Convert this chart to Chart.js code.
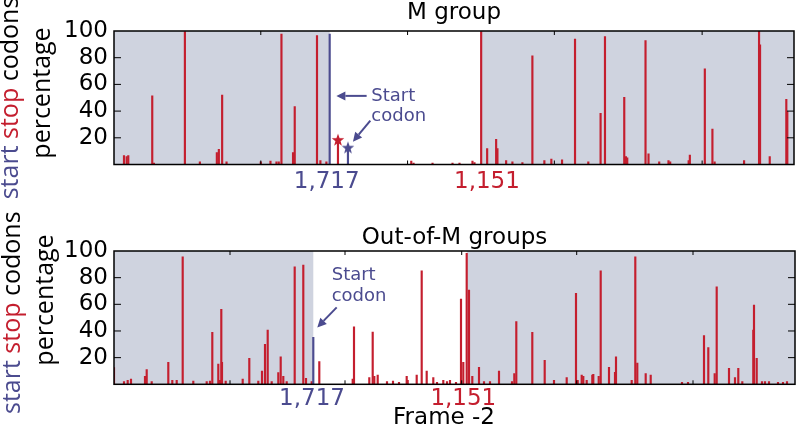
<!DOCTYPE html>
<html>
<head>
<meta charset="utf-8">
<script src="https://cdn.jsdelivr.net/npm/chart.js@4.4.0/dist/chart.umd.min.js"></script>
<style>
  body { margin: 0; background: #fff; }
  canvas { position: absolute; left: 0; }
</style>
</head>
<body>
<canvas id="mChart" width="799" height="200" style="top:0"></canvas>
<canvas id="oChart" width="799" height="226" style="top:200px"></canvas>
<script>
// positions along the frame (0 = left edge of the plot), values in percent
const mStopPos = [10, 12.7, 14.3, 38.3, 40, 71, 86, 103, 105, 108.3, 112.7, 147, 156.7, 162.7, 165, 167.7, 179.3, 181, 203.3, 206.7, 212.7, 224.3,
  297.7, 300, 319, 339, 346, 359, 361,
  367.7, 373.7, 382.7, 384, 392.7, 399, 409, 419, 431, 438, 448.7, 461.7, 475, 487.3, 491.7, 511, 512.7, 514, 532.3, 535.3, 546, 555.3, 557,
  575.5, 576.7, 591.7, 599.3, 601.5, 631, 646, 647, 656.7, 673.3, 674.3];
const mStopPct = [6.6, 6, 6.6, 51.4, 1, 99.6, 2, 9, 11.4, 52, 2, 2, 2.5, 2, 2, 97.6, 9, 43.4, 96.6, 3, 2, 18.4,
  2.5, 1, 1, 1, 1, 2.5, 1.5,
  99.6, 12, 18.9, 12, 3, 2, 1.5, 81.4, 3, 4, 3.5, 93.9, 2, 38.4, 95.9, 50.4, 6, 5, 92.9, 8, 2, 3, 2,
  3, 7, 71.6, 26.6, 2, 3, 100, 89.6, 6, 48.9, 39.6];
const mStartPos = [216, 234.3];
const mStartPct = [97.6, 12.6];
const mStarPos = [224.3, 234.3];
const mStarPct = [18.4, 12.6];
const mShadeFrom = [0, 367.7];
const mShadeTo = [216, 681];
const mTickPos = [213, 373.5];
const mMinorTicks = [147, 294, 441, 589];

const oStopPos = [0, 10, 13.7, 17, 31, 32.7, 37.7, 54.3, 58.3, 62.7, 68.7, 79.3, 92.7, 96, 98.3, 104.3, 106, 107.3, 108, 111.7, 128.7, 135.3,
  144.3, 148, 151, 153.7, 157.7, 164.3, 166.7, 169.3, 172.7, 180.7, 189.3, 192, 197.7,
  205.3, 238.7, 240, 255.3, 258.7, 260.3, 263.7, 273, 279, 285, 292.7, 293.7, 302.7, 307.7, 312.7, 319.3, 323, 329.3, 333, 336, 342, 347, 349.3,
  352.7, 355, 358.3, 365, 370, 376, 385, 398, 400.3, 402.3, 418.3, 430.7, 440, 452.7, 462, 463.7, 467.7, 469.3, 472.7, 478.3, 479.3, 484.7,
  486.7, 495, 501, 502, 517.7, 521.3, 523.3, 531.7, 536.7, 568, 574, 590, 594.3, 600.7, 602.7, 615, 621, 624.3, 628.3, 639.3, 640, 642.7,
  648, 651, 655, 664, 669, 673];
const oStopPct = [12.5, 2, 3, 4, 6, 11, 2, 16.5, 3, 3, 95.7, 2.5, 2, 2.5, 39, 15.2, 3, 56.2, 16.5, 2.5, 4, 19.5,
  2.5, 10, 30, 40.7, 2, 8.7, 20.7, 6, 2, 88.2, 89.5, 4.5, 2,
  17, 4, 43.2, 5, 39.2, 6, 7, 2, 2.5, 1.5, 6, 3, 7, 85.2, 10, 5, 1.5, 3, 2, 3, 1.5, 64, 16.5,
  98.2, 70.7, 6, 12.7, 2, 2, 10, 2, 8, 47, 39, 18, 3, 5, 68.2, 3, 7, 6, 3, 7, 7.5, 6,
  85.2, 12.7, 9, 20.7, 3, 95.7, 16, 8, 7, 1.5, 1.5, 36.5, 27.5, 8, 73.2, 12, 5, 12, 2, 40.7, 59.5, 19.5,
  2, 2, 2, 1.5, 1.5, 2];
const oStartPos = [199.3];
const oStartPct = [35.2];
const oShadeFrom = [0, 352.7];
const oShadeTo = [199.3, 681];
const oTickPos = [198, 349.3];
const oMinorTicks = [116, 231, 347.7, 462.7, 579];

const tickLabels = ['1,717', '1,151'];
const yTickValues = [20, 40, 60, 80, 100];

const RED = '#c41e2e';
const BLUE = '#4b4b8f';
const SHADE = '#cfd3df';
const tickColors = [BLUE, RED];

function starImage(color) {
  const c = document.createElement('canvas');
  c.width = c.height = 14;
  const g = c.getContext('2d');
  g.beginPath();
  for (let i = 0; i < 10; i++) {
    const r = i % 2 ? 2.7 : 6.6;
    const a = -Math.PI / 2 + i * Math.PI / 5;
    g.lineTo(7 + r * Math.cos(a), 7.4 + r * Math.sin(a));
  }
  g.closePath();
  g.fillStyle = color;
  g.fill();
  return c;
}

function arrow(ctx, x1, y1, x2, y2) {
  const a = Math.atan2(y2 - y1, x2 - x1);
  const head = 9, w = 4.5;
  const bx = x2 - head * Math.cos(a), by = y2 - head * Math.sin(a);
  ctx.beginPath();
  ctx.moveTo(x1, y1);
  ctx.lineTo(bx, by);
  ctx.stroke();
  ctx.beginPath();
  ctx.moveTo(x2, y2);
  ctx.lineTo(bx + w * Math.sin(a), by - w * Math.cos(a));
  ctx.lineTo(bx - w * Math.sin(a), by + w * Math.cos(a));
  ctx.closePath();
  ctx.fill();
}

// shading, frame, inward ticks and all the extra text
function decor(p) {
  return {
    id: 'decor',
    beforeDatasetsDraw(chart) {
      const { ctx, chartArea: a, scales: { x } } = chart;
      ctx.save();
      ctx.fillStyle = SHADE;
      p.shadeFrom.forEach((f, i) => {
        const x1 = x.getPixelForValue(f), x2 = x.getPixelForValue(p.shadeTo[i]);
        ctx.fillRect(x1, a.top, x2 - x1, a.bottom - a.top);
      });
      ctx.restore();
    },
    afterDatasetsDraw(chart) {
      const { ctx, chartArea: a, scales: { x, y } } = chart;
      ctx.save();
      ctx.strokeStyle = '#000';
      ctx.lineWidth = 1;
      ctx.beginPath();
      p.minorTicks.forEach(v => {
        const px = x.getPixelForValue(v);
        ctx.moveTo(px, a.top); ctx.lineTo(px, a.top + 4);
        ctx.moveTo(px, a.bottom); ctx.lineTo(px, a.bottom - 4);
      });
      yTickValues.slice(0, 4).forEach(v => {
        const py = y.getPixelForValue(v);
        ctx.moveTo(a.left, py); ctx.lineTo(a.left + 7, py);
        ctx.moveTo(a.right, py); ctx.lineTo(a.right - 7, py);
      });
      ctx.stroke();
      ctx.lineWidth = 1.5;
      ctx.strokeRect(a.left, a.top, a.right - a.left, a.bottom - a.top);

      // start codon note
      ctx.strokeStyle = BLUE;
      ctx.fillStyle = BLUE;
      ctx.lineWidth = 2;
      p.arrows.forEach(r => arrow(ctx, x.getPixelForValue(r[0]), y.getPixelForValue(r[1]),
        x.getPixelForValue(r[2]), y.getPixelForValue(r[3])));
      ctx.font = '18px "DejaVu Sans"';
      ctx.textBaseline = 'middle';
      ctx.textAlign = 'left';
      ctx.fillText('Start', x.getPixelForValue(p.noteX), y.getPixelForValue(p.noteY[0]));
      ctx.fillText('codon', x.getPixelForValue(p.noteX), y.getPixelForValue(p.noteY[1]));
      ctx.restore();
    },
    afterDraw(chart) {
      const { ctx, chartArea: a } = chart;
      ctx.save();
      ctx.fillStyle = '#000';
      ctx.textAlign = 'center';
      ctx.textBaseline = 'alphabetic';
      ctx.font = '23px "DejaVu Sans"';
      ctx.fillText(p.title, (a.left + a.right) / 2, p.titleBase);
      if (p.xTitle) ctx.fillText(p.xTitle, p.xTitleX, p.xTitleBase);

      // rotated y title, two lines
      ctx.font = '25px "Open Sans"';
      ctx.textBaseline = 'middle';
      const parts = [['start ', BLUE], ['stop ', RED], ['codons', '#000']];
      const total = parts.reduce((s, q) => s + ctx.measureText(q[0]).width, 0);
      ctx.save();
      ctx.translate(p.yTitle[0][0], p.yTitle[0][1]);
      ctx.rotate(-Math.PI / 2);
      ctx.textAlign = 'left';
      let cx = -total / 2;
      parts.forEach(q => {
        ctx.fillStyle = q[1];
        ctx.fillText(q[0], cx, 0);
        cx += ctx.measureText(q[0]).width;
      });
      ctx.restore();
      ctx.save();
      ctx.translate(p.yTitle[1][0], p.yTitle[1][1]);
      ctx.rotate(-Math.PI / 2);
      ctx.textAlign = 'center';
      ctx.fillStyle = '#000';
      ctx.fillText('percentage', 0, 0);
      ctx.restore();
      ctx.restore();
    }
  };
}

function buildChart(id, p) {
  const datasets = [
    {
      type: 'bar', order: 2,
      data: p.stopPos.map((x, i) => ({ x, y: p.stopPct[i] })),
      backgroundColor: RED, barThickness: 1.5, grouped: false
    },
    {
      type: 'bar', order: 1,
      data: p.startPos.map((x, i) => ({ x, y: p.startPct[i] })),
      backgroundColor: BLUE, barThickness: 1.5, grouped: false
    }
  ];
  if (p.starPos) {
    datasets.push({
      type: 'scatter', order: 0,
      data: p.starPos.map((x, i) => ({ x, y: p.starPct[i] })),
      pointStyle: [starImage(RED), starImage(BLUE)]
    });
  }
  return new Chart(document.getElementById(id), {
    type: 'bar',
    data: { datasets },
    options: {
      responsive: false,
      animation: false,
      layout: { padding: { top: p.padTop, right: 4, left: 0, bottom: 0 } },
      plugins: { legend: { display: false }, tooltip: { enabled: false } },
      scales: {
        x: {
          type: 'linear', min: 0, max: 681, offset: false,
          grid: { display: false, drawTicks: false },
          border: { display: false },
          afterBuildTicks: s => { s.ticks = p.tickPos.map(v => ({ value: v })); },
          afterFit: s => { s.height = p.xHeight; },
          ticks: {
            autoSkip: false, maxRotation: 0, padding: p.xPad,
            font: { family: 'DejaVu Sans', size: 23 },
            color: c => tickColors[c.index],
            callback: (v, i) => tickLabels[i]
          }
        },
        y: {
          min: 0, max: 100,
          grid: { display: false, drawTicks: false },
          border: { display: false },
          afterBuildTicks: s => { s.ticks = yTickValues.map(v => ({ value: v })); },
          afterFit: s => { s.width = 114; },
          ticks: { padding: 6, color: '#000', font: { family: 'DejaVu Sans', size: 23 } }
        }
      }
    },
    plugins: [decor(p)]
  });
}

buildChart('mChart', {
  stopPos: mStopPos, stopPct: mStopPct, startPos: mStartPos, startPct: mStartPct,
  starPos: mStarPos, starPct: mStarPct,
  shadeFrom: mShadeFrom, shadeTo: mShadeTo, tickPos: mTickPos, minorTicks: mMinorTicks,
  padTop: 31, xHeight: 35.5, xPad: 4,
  title: 'M group', titleBase: 19,
  arrows: [[253, 51.4, 222.7, 51.4], [256.7, 32.9, 239.3, 17.1]],
  noteX: 257.7, noteY: [51.4, 35.9],
  yTitle: [[11, 98], [43, 93]]
});

buildChart('oChart', {
  stopPos: oStopPos, stopPct: oStopPct, startPos: oStartPos, startPct: oStartPct,
  shadeFrom: oShadeFrom, shadeTo: oShadeTo, tickPos: oTickPos, minorTicks: oMinorTicks,
  padTop: 51, xHeight: 41.7, xPad: 1,
  title: 'Out-of-M groups', titleBase: 44,
  xTitle: 'Frame -2', xTitleX: 444, xTitleBase: 224,
  arrows: [[222.7, 57.7, 203.3, 42.7]],
  noteX: 217.7, noteY: [82, 65.7],
  yTitle: [[13, 112.7], [46, 100]]
});
</script>
</body>
</html>
